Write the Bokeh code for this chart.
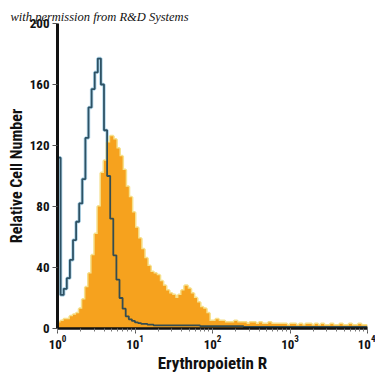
import numpy as np
from bokeh.plotting import figure
from bokeh.models import FixedTicker
from bokeh.embed import file_html
from bokeh.resources import INLINE

# histogram bins: 100 bins, each 0.04 decades wide, from 10^0 to 10^4
bin_width_decades = 0.04
n_bins = 100

# Erythropoietin R stained cells (orange filled histogram)
sample_counts = [
    4, 5, 6, 6, 8, 9, 10, 13, 19, 27,
    36, 48, 62, 80, 102, 110, 122, 126, 124, 118,
    113, 104, 93, 86, 76, 66, 59, 52, 46, 41,
    37, 36, 35, 31, 28, 25, 23, 22, 20, 22,
    25, 28, 26, 23, 20, 17, 14, 13, 10, 5,
    5, 6, 5, 5, 4, 4, 4, 5, 4, 4,
    4, 3, 4, 4, 3, 4, 3, 3, 4, 3,
    3, 3, 3, 3, 2, 3, 3, 2, 3, 2,
    3, 3, 2, 3, 2, 3, 2, 2, 3, 2,
    2, 3, 2, 2, 3, 2, 2, 3, 2, 2,
]

# isotype control (blue open histogram)
isotype_counts = [
    112, 22, 26, 33, 45, 58, 70, 82, 98, 125,
    145, 157, 168, 177, 160, 130, 100, 72, 48, 32,
    20, 13, 8, 6, 5, 4, 3.5, 3, 3, 2.5,
    2.5, 2, 2, 2, 2, 2, 2, 2, 2, 2,
    2, 2, 2, 2, 2, 2, 1.5, 1.5, 1.5, 1.5,
    1.5, 1.5, 1.5, 1.5, 1.5, 1.5, 1.5, 1.5, 1.5, 1.5,
    1, 1, 1, 1, 1, 1, 1, 1, 1, 1,
    1, 1, 1, 1, 1, 1, 1, 1, 1, 1,
    1, 1, 1, 1, 1, 1, 1, 1, 1, 1,
    1, 1, 1, 1, 1, 1, 1, 1, 1, 1,
]

y_ticks = [0, 40, 80, 120, 160, 200]
x_label = "Erythropoietin R"
y_label = "Relative Cell Number"
credit = "with permission from R&D Systems"

edges = 10 ** (np.arange(n_bins + 1) * bin_width_decades)
iso_y = list(isotype_counts) + [isotype_counts[-1]]
smp_y = list(sample_counts) + [sample_counts[-1]]

# polygon outline of the filled step histogram
poly_x = [edges[0]] + [e for i in range(n_bins) for e in (edges[i], edges[i + 1])] + [edges[-1]]
poly_y = [0] + [v for c in sample_counts for v in (c, c)] + [0]

FONT = "Roboto Condensed"

p = figure(width=375, height=375, x_axis_type="log",
           x_range=(1, 10000), y_range=(0, 200),
           output_backend="svg", toolbar_location=None,
           min_border_left=57, min_border_right=8,
           min_border_top=23, min_border_bottom=47)
p.background_fill_color = "white"
p.border_fill_color = "white"
p.outline_line_color = None
p.grid.visible = False

# credit line as title
p.title.text = credit
p.title.text_font = "Liberation Serif"
p.title.text_font_style = "italic"
p.title.text_font_size = "12.5px"
p.title.text_color = "#111111"
p.title.align = "left"
p.title.offset = -47
p.title.standoff = 0

# blue halo underneath
p.step(edges, iso_y, mode="after", line_color="#b3d7ea", line_width=3.5)

# yellow rim + orange fill
p.step(edges, smp_y, mode="after", line_color="#f6e08c", line_width=3)
p.patch(poly_x, poly_y, fill_color="#f6a21e", line_color=None)

# dark blue line on top
p.step(edges, iso_y, mode="after", line_color="#1f4457", line_width=1.8,
       line_alpha=0.9)

p.yaxis.ticker = FixedTicker(ticks=y_ticks)
for ax in (p.xaxis[0], p.yaxis[0]):
    ax.major_label_text_font = FONT
    ax.major_label_text_font_style = "bold"
    ax.major_label_text_font_size = "13px"
    ax.major_label_text_color = "#111111"
    ax.axis_label_text_font = FONT
    ax.axis_label_text_font_style = "bold"
    ax.axis_label_text_color = "#111111"
    ax.major_tick_in = 0
    ax.minor_tick_in = 0
    ax.major_tick_line_color = "#555555"
    ax.minor_tick_line_color = "#777777"
    ax.axis_line_color = "#111111"

p.xaxis.axis_label = x_label
p.yaxis.axis_label = y_label
p.xaxis.axis_label_text_font_size = "17px"
p.yaxis.axis_label_text_font_size = "16px"
p.yaxis.axis_line_width = 3
p.xaxis.axis_line_width = 2.5
p.yaxis.major_tick_out = 5
p.yaxis.minor_tick_out = 0
p.xaxis.major_tick_out = 5
p.xaxis.minor_tick_out = 3
p.yaxis.major_label_standoff = 3
p.xaxis.major_label_standoff = 1
p.xaxis.axis_label_standoff = 1
p.yaxis.axis_label_standoff = 1

open("out.html", "w").write(file_html(p, INLINE))
